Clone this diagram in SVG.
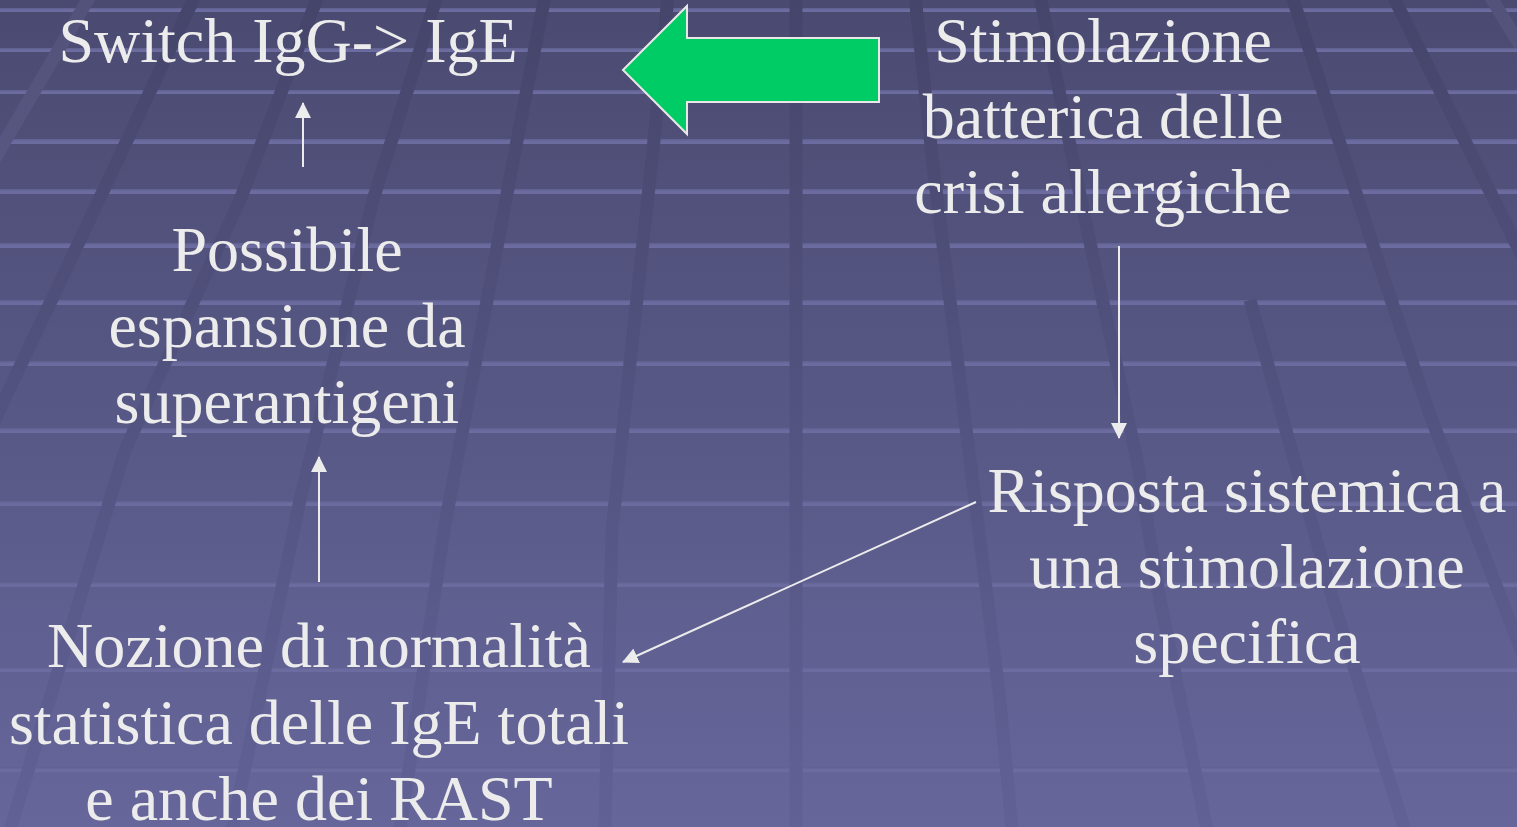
<svg xmlns="http://www.w3.org/2000/svg" width="1517" height="827" viewBox="0 0 1517 827">
  <defs>
    <linearGradient id="bg" x1="0" y1="0" x2="0" y2="827" gradientUnits="userSpaceOnUse">
      <stop offset="0" stop-color="#4a4a71"/>
      <stop offset="1" stop-color="#66669b"/>
    </linearGradient>
    <linearGradient id="dark" x1="0" y1="0" x2="0" y2="827" gradientUnits="userSpaceOnUse">
      <stop offset="0" stop-color="#45456b"/>
      <stop offset="1" stop-color="#616196"/>
    </linearGradient>
    <linearGradient id="light" x1="0" y1="0" x2="0" y2="827" gradientUnits="userSpaceOnUse">
      <stop offset="0" stop-color="#52527a"/>
      <stop offset="1" stop-color="#6a6a9f"/>
    </linearGradient>
    <linearGradient id="hlg" x1="0" y1="0" x2="0" y2="1">
      <stop offset="0" stop-color="#5f5f90"/>
      <stop offset="0.5" stop-color="#6b6b9f"/>
      <stop offset="1" stop-color="#6c6ca1"/>
    </linearGradient>
    <marker id="ah" viewBox="0 0 16 16" refX="15" refY="8" markerWidth="16" markerHeight="16" markerUnits="userSpaceOnUse" orient="auto">
      <path d="M0,0 L16,8 L0,16 Z" fill="#ececec"/>
    </marker>
    <style>
      .hl { fill: url(#hlg); }
      .sd { fill: none; stroke: url(#dark); stroke-width: 13; }
      .sl { fill: none; stroke: url(#light); stroke-width: 13; }
      .t { font-family: "Liberation Serif", "Times New Roman", serif; font-size: 64px; fill: #ececec; text-anchor: middle; }
      .c { fill: none; stroke: #ececec; stroke-width: 2; marker-end: url(#ah); }
    </style>
  </defs>

  <g id="background">
    <rect x="0" y="0" width="1517" height="827" fill="url(#bg)"/>
    <rect class="hl" x="0" y="8" width="1517" height="4"/>
    <rect class="hl" x="0" y="48" width="1517" height="4"/>
    <rect class="hl" x="0" y="90" width="1517" height="4"/>
    <rect class="hl" x="0" y="139" width="1517" height="5"/>
    <rect class="hl" x="0" y="189" width="1517" height="5"/>
    <rect class="hl" x="0" y="243" width="1517" height="5"/>
    <rect class="hl" x="0" y="300" width="1517" height="5"/>
    <rect class="hl" x="0" y="361" width="1517" height="5"/>
    <rect class="hl" x="0" y="428" width="1517" height="5"/>
    <rect class="hl" x="0" y="501" width="1517" height="5"/>
    <rect class="hl" x="0" y="582" width="1517" height="5"/>
    <rect class="hl" x="0" y="667" width="1517" height="5"/>
    <rect class="hl" x="0" y="767" width="1517" height="5"/>
    <path class="sl" d="M90,-4 L-6,160"/>
    <path class="sd" d="M195,-4 L105,187 L-10,430"/>
    <path class="sd" d="M318,-4 L240,200 L125,450 L10,830"/>
    <path class="sd" d="M437,-4 L373,200 L300,500 L232,830"/>
    <path class="sd" d="M545,-4 L519,130 L444,530 L400,830"/>
    <path class="sd" d="M668,-4 L653,150 L612,530 L605,830"/>
    <path class="sd" d="M796,-4 L796,830"/>
    <path class="sd" d="M915,-4 L933,165 L1000,700 L1012,830"/>
    <path class="sd" d="M1040,-4 L1083,210 L1137,460 L1160,600 L1207,830"/>
    <path class="sd" d="M1250,300 L1333,600 L1405,830"/>
    <path class="sd" d="M1292,-4 L1380,267 L1430,415 L1525,660"/>
    <path class="sd" d="M1393,-4 L1525,262"/>
    <path class="sl" d="M1490,-4 L1520,45"/>
  </g>

  <g id="connectors">
    <line class="c" x1="303" y1="167" x2="303" y2="103"/>
    <line class="c" x1="319" y1="582" x2="319" y2="457"/>
    <line class="c" x1="1119" y1="246" x2="1119" y2="438"/>
    <line class="c" x1="976" y1="502" x2="623" y2="662"/>
    <path id="green-arrow" d="M623,70 L687,6 L687,38 L879,38 L879,102 L687,102 L687,134 Z" fill="#00cc66" stroke="#e8e8e8" stroke-width="2"/>
  </g>

  <g id="node-switch">
    <text class="t" x="288" y="62">Switch IgG-&gt; IgE</text>
  </g>
  <g id="node-stimolazione">
    <text class="t" x="1103" y="62">Stimolazione</text>
    <text class="t" x="1103" y="138">batterica delle</text>
    <text class="t" x="1103" y="213">crisi allergiche</text>
  </g>
  <g id="node-possibile">
    <text class="t" x="287" y="271">Possibile</text>
    <text class="t" x="287" y="347">espansione da</text>
    <text class="t" x="287" y="423">superantigeni</text>
  </g>
  <g id="node-risposta">
    <text class="t" x="1247" y="512">Risposta sistemica a</text>
    <text class="t" x="1247" y="588">una stimolazione</text>
    <text class="t" x="1247" y="663">specifica</text>
  </g>
  <g id="node-nozione">
    <text class="t" x="319" y="667">Nozione di normalità</text>
    <text class="t" x="319" y="744">statistica delle IgE totali</text>
    <text class="t" x="319" y="820">e anche dei RAST</text>
  </g>
</svg>
